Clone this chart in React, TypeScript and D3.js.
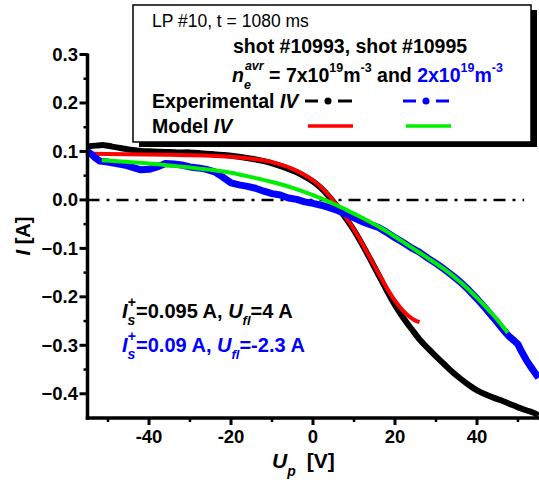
import React from "react";
import * as d3 from "d3";

// ---------- data ----------
const blackU = [-55,-53,-51,-49,-47,-45,-42,-39,-36,-33,-30,-27,-24,-21,-18,-15,-12,-9,-6,-3,0,2,4,6,8,10,12,14,16,18,20,22,24,26,28,30,32,34,36,38,40,42,44,46,48,50,52,54,55];
const blackI = [0.11,0.112,0.113,0.11,0.107,0.104,0.101,0.1,0.099,0.098,0.098,0.096,0.094,0.092,0.089,0.085,0.08,0.073,0.064,0.053,0.038,0.024,0.006,-0.015,-0.038,-0.063,-0.092,-0.123,-0.155,-0.187,-0.217,-0.243,-0.266,-0.288,-0.306,-0.323,-0.339,-0.355,-0.369,-0.382,-0.393,-0.401,-0.408,-0.414,-0.421,-0.428,-0.434,-0.44,-0.445];

const redU = [-55,-45,-35,-25,-15,-10,-5,0,2,4,6,8,10,12,14,16,18,20,22,24,25,26];
const redI = [0.095,0.094,0.093,0.091,0.085,0.078,0.064,0.04,0.026,0.008,-0.013,-0.036,-0.061,-0.09,-0.121,-0.152,-0.182,-0.208,-0.229,-0.244,-0.249,-0.252];

const blueU = [-55,-54,-53,-52,-50,-48,-46,-44,-42,-40,-38,-36,-34,-32,-30,-28,-26,-24,-22,-20,-18,-16,-14,-12,-10,-8,-6,-4,-2,0,2,4,6,8,10,12,14,16,18,20,22,24,26,28,30,32,34,36,38,40,42,44,46,47,48,49,50,51,52,53,54,55];
const blueI = [0.1,0.094,0.086,0.08,0.078,0.075,0.072,0.067,0.062,0.063,0.068,0.075,0.074,0.072,0.068,0.066,0.063,0.058,0.047,0.035,0.031,0.028,0.024,0.018,0.013,0.01,0.004,0.001,-0.004,-0.007,-0.011,-0.016,-0.022,-0.029,-0.037,-0.045,-0.051,-0.057,-0.067,-0.078,-0.088,-0.099,-0.108,-0.12,-0.131,-0.143,-0.156,-0.17,-0.186,-0.204,-0.223,-0.243,-0.264,-0.274,-0.283,-0.29,-0.298,-0.315,-0.33,-0.343,-0.355,-0.367];

const greenU = [-51.5,-45,-40,-35,-30,-25,-20,-15,-10,-5,0,4,8,12,16,20,24,28,32,36,40,44,46,47.5];
const greenI = [0.082,0.078,0.075,0.071,0.067,0.062,0.056,0.047,0.037,0.025,0.01,-0.004,-0.02,-0.037,-0.055,-0.076,-0.098,-0.12,-0.143,-0.17,-0.202,-0.238,-0.258,-0.274];

const xMajor = [-40,-20,0,20,40];
const xMinor = [-50,-30,-10,10,30,50];
const yMajor = [-0.4,-0.3,-0.2,-0.1,0.0,0.1,0.2,0.3];
const yMinor = [-0.35,-0.25,-0.15,-0.05,0.05,0.15,0.25];

// ---------- layout ----------
const W = 539, H = 482;
const x = d3.scaleLinear().domain([-55, 55]).range([87.5, 538.5]);
const y = d3.scaleLinear().domain([-0.45, 0.3]).range([418, 54.5]);

const FONT = "Liberation Sans, Arial, sans-serif";

function path(us: number[], is: number[], curve: d3.CurveFactory) {
  const pts: [number, number][] = us.map((u, k) => [u, is[k]]);
  return d3.line<[number, number]>().x(d => x(d[0])).y(d => y(d[1])).curve(curve)(pts) || "";
}

export default function App() {
  const fmt = d3.format(".1f");
  return (
    <svg width={W} height={H} style={{ position: "absolute", left: 0, top: 0, background: "#fff" }} fontFamily={FONT}>
      <rect x={0} y={0} width={W} height={H} fill="#fff" />

      {/* zero line */}
      <line x1={x(-55)} x2={x(51.5)} y1={y(0)} y2={y(0)} stroke="#000" strokeWidth={2.5} strokeDasharray="12,7,3,7" />

      {/* curves */}
      <path d={path(blackU, blackI, d3.curveCatmullRom)} fill="none" stroke="#000" strokeWidth={6} strokeLinejoin="round" />
      <path d={path(redU, redI, d3.curveMonotoneX)} fill="none" stroke="#ff0000" strokeWidth={4} />
      <path d={path(blueU, blueI, d3.curveLinear)} fill="none" stroke="#0000ff" strokeWidth={7} strokeLinejoin="round" />
      <path d={path(greenU, greenI, d3.curveMonotoneX)} fill="none" stroke="#00ee00" strokeWidth={4} />

      {/* axes */}
      <line x1={x(-55)} x2={x(-55)} y1={y(0.3) - 1} y2={y(-0.45) + 1.75} stroke="#000" strokeWidth={3.5} />
      <line x1={x(-55) - 1.75} x2={W} y1={y(-0.45)} y2={y(-0.45)} stroke="#000" strokeWidth={3.5} />
      {yMajor.map(v => (
        <g key={"ym" + v}>
          <line x1={x(-55) - 8} x2={x(-55)} y1={y(v)} y2={y(v)} stroke="#000" strokeWidth={3} />
          <text x={78} y={y(v) + 6.5} textAnchor="end" fontSize={18.5} fontWeight="bold">{fmt(v)}</text>
        </g>
      ))}
      {yMinor.map(v => (
        <line key={"yn" + v} x1={x(-55) - 4} x2={x(-55)} y1={y(v)} y2={y(v)} stroke="#000" strokeWidth={2.5} />
      ))}
      {xMajor.map(v => (
        <g key={"xm" + v}>
          <line x1={x(v)} x2={x(v)} y1={y(-0.45)} y2={y(-0.45) + 7} stroke="#000" strokeWidth={3} />
          <text x={x(v)} y={443} textAnchor="middle" fontSize={18.5} fontWeight="bold">{String(v)}</text>
        </g>
      ))}
      {xMinor.map(v => (
        <line key={"xn" + v} x1={x(v)} x2={x(v)} y1={y(-0.45)} y2={y(-0.45) + 4} stroke="#000" strokeWidth={2.5} />
      ))}

      {/* axis titles */}
      <text transform="translate(30,236) rotate(-90)" textAnchor="middle" fontSize={20} fontWeight="bold">
        <tspan fontStyle="italic">I</tspan> [A]
      </text>
      <text x={272} y={468} fontSize={21} fontWeight="bold">
        <tspan fontStyle="italic">U</tspan><tspan fontStyle="italic" fontSize={14} dy={8}>p</tspan><tspan dx={11} dy={-8}>[V]</tspan>
      </text>

      {/* annotations */}
      <text x={122} y={318} fontSize={20} fontWeight="bold" fill="#000">
        <tspan fontStyle="italic">I</tspan><tspan fontStyle="italic" fontSize={14} dy={7}>s</tspan><tspan fontSize={14} dx={-7.5} dy={-18}>+</tspan><tspan dy={11}>=0.095 A, </tspan><tspan fontStyle="italic">U</tspan><tspan fontStyle="italic" fontSize={13} dy={7}>fl</tspan><tspan dy={-7}>=4 A</tspan>
      </text>
      <text x={122} y={352} fontSize={20} fontWeight="bold" fill="#0000ff">
        <tspan fontStyle="italic">I</tspan><tspan fontStyle="italic" fontSize={14} dy={7}>s</tspan><tspan fontSize={14} dx={-7.5} dy={-18}>+</tspan><tspan dy={11}>=0.09 A, </tspan><tspan fontStyle="italic">U</tspan><tspan fontStyle="italic" fontSize={13} dy={7}>fl</tspan><tspan dy={-7}>=-2.3 A</tspan>
      </text>

      {/* legend */}
      <rect x={139} y={10} width={398} height={137} fill="#000" />
      <rect x={133} y={5} width={398} height={137} fill="#fff" stroke="#000" strokeWidth={1.5} />
      <text x={152} y={27} fontSize={17.5}>LP #10, t = 1080 ms</text>
      <text x={233} y={53} fontSize={19.5} fontWeight="bold">shot #10993, shot #10995</text>
      <text x={232} y={82} fontSize={19.5} fontWeight="bold">
        <tspan fontStyle="italic">n</tspan><tspan fontStyle="italic" fontSize={12.5} dy={7}>e</tspan><tspan fontStyle="italic" fontSize={12.5} dx={-6} dy={-19}>avr</tspan><tspan dy={12}> = 7x10</tspan><tspan fontSize={12.5} dy={-10}>19</tspan><tspan dy={10}>m</tspan><tspan fontSize={12.5} dy={-10}>-3</tspan><tspan dy={10}> and </tspan><tspan fill="#0000ff">2x10</tspan><tspan fill="#0000ff" fontSize={12.5} dy={-10}>19</tspan><tspan fill="#0000ff" dy={10}>m</tspan><tspan fill="#0000ff" fontSize={12.5} dy={-10}>-3</tspan>
      </text>
      <text x={152} y={108} fontSize={19.5} fontWeight="bold">Experimental <tspan fontStyle="italic">IV</tspan></text>
      <text x={152} y={133} fontSize={19.5} fontWeight="bold">Model <tspan fontStyle="italic">IV</tspan></text>

      <line x1={305} x2={318} y1={101} y2={101} stroke="#000" strokeWidth={3} />
      <circle cx={328} cy={101} r={3.5} fill="#000" />
      <line x1={338} x2={352} y1={101} y2={101} stroke="#000" strokeWidth={3} />
      <line x1={403} x2={416} y1={101} y2={101} stroke="#0000ff" strokeWidth={3} />
      <circle cx={426} cy={101} r={3.5} fill="#0000ff" />
      <line x1={436} x2={449} y1={101} y2={101} stroke="#0000ff" strokeWidth={3} />
      <line x1={308} x2={353} y1={126} y2={126} stroke="#ff0000" strokeWidth={3.5} />
      <line x1={406} x2={451} y1={126} y2={126} stroke="#00ee00" strokeWidth={3.5} />
    </svg>
  );
}
